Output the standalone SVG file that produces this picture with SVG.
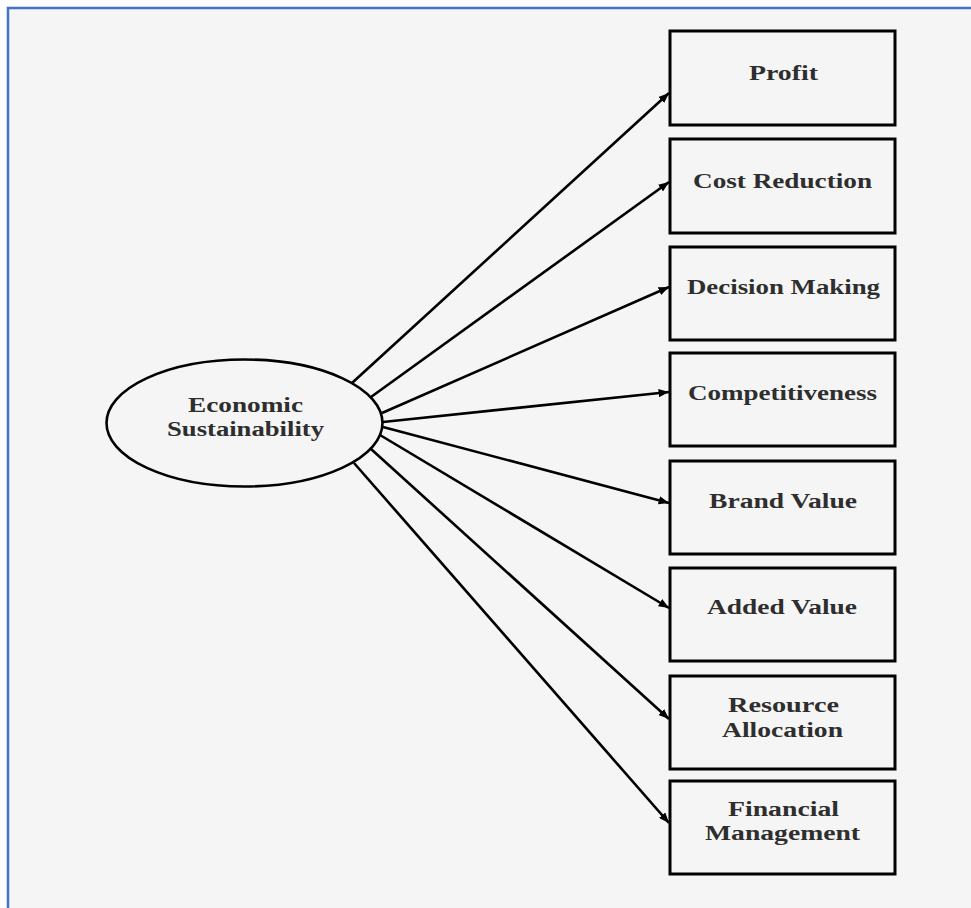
<svg xmlns="http://www.w3.org/2000/svg" width="971" height="908" viewBox="0 0 971 908">
<defs>
<style>
.box{fill:#f5f5f5;stroke:#000;stroke-width:3}
.lbl{font-family:"Liberation Serif","Times New Roman",serif;font-weight:bold;font-size:20px;fill:#2e2e2e;text-anchor:middle}
.conn line{stroke:#000;stroke-width:2.6;marker-end:url(#ah)}
</style>
<marker id="ah" viewBox="0 0 10 8" refX="10" refY="4" markerWidth="4" markerHeight="3.2" orient="auto" markerUnits="strokeWidth">
<path d="M0,0 L10,4 L0,8 z" fill="#000"/>
</marker>
</defs>
<rect x="0" y="0" width="971" height="908" fill="#ffffff"/>
<rect x="8" y="8" width="980" height="920" fill="#f5f5f5" stroke="#4472c4" stroke-width="2.5"/>
<g class="conn" id="connectors">
<line x1="352" y1="383" x2="669" y2="93"/>
<line x1="371" y1="397" x2="669" y2="182"/>
<line x1="382" y1="413" x2="669" y2="287"/>
<line x1="383" y1="422" x2="669" y2="392"/>
<line x1="383" y1="427" x2="669" y2="503"/>
<line x1="380" y1="435" x2="669" y2="608"/>
<line x1="371" y1="449" x2="669" y2="719"/>
<line x1="354" y1="463" x2="669" y2="823"/>
</g>
<g id="economic-sustainability">
<ellipse cx="244.5" cy="423" rx="138" ry="63.5" fill="#f5f5f5" stroke="#000" stroke-width="2.6"/>
<text class="lbl" x="245.5" y="412" textLength="115" lengthAdjust="spacingAndGlyphs">Economic</text>
<text class="lbl" x="245.5" y="436" textLength="157" lengthAdjust="spacingAndGlyphs">Sustainability</text>
</g>
<g id="profit">
<rect class="box" x="670" y="31" width="225" height="94"/>
<text class="lbl" x="783.5" y="80" textLength="69" lengthAdjust="spacingAndGlyphs">Profit</text>
</g>
<g id="cost-reduction">
<rect class="box" x="670" y="139" width="225" height="94"/>
<text class="lbl" x="782.5" y="188" textLength="179" lengthAdjust="spacingAndGlyphs">Cost Reduction</text>
</g>
<g id="decision-making">
<rect class="box" x="670" y="247" width="225" height="93"/>
<text class="lbl" x="783.5" y="294" textLength="193" lengthAdjust="spacingAndGlyphs">Decision Making</text>
</g>
<g id="competitiveness">
<rect class="box" x="670" y="353" width="225" height="93"/>
<text class="lbl" x="782.5" y="400" textLength="189" lengthAdjust="spacingAndGlyphs">Competitiveness</text>
</g>
<g id="brand-value">
<rect class="box" x="670" y="461" width="225" height="93"/>
<text class="lbl" x="783" y="508" textLength="148" lengthAdjust="spacingAndGlyphs">Brand Value</text>
</g>
<g id="added-value">
<rect class="box" x="670" y="568" width="225" height="93"/>
<text class="lbl" x="782" y="614" textLength="150" lengthAdjust="spacingAndGlyphs">Added Value</text>
</g>
<g id="resource-allocation">
<rect class="box" x="670" y="676" width="225" height="93"/>
<text class="lbl" x="783.5" y="712" textLength="111" lengthAdjust="spacingAndGlyphs">Resource</text>
<text class="lbl" x="782.5" y="737" textLength="121" lengthAdjust="spacingAndGlyphs">Allocation</text>
</g>
<g id="financial-management">
<rect class="box" x="670" y="781" width="225" height="93"/>
<text class="lbl" x="783.5" y="816" textLength="111" lengthAdjust="spacingAndGlyphs">Financial</text>
<text class="lbl" x="782.5" y="840" textLength="155" lengthAdjust="spacingAndGlyphs">Management</text>
</g>
</svg>
